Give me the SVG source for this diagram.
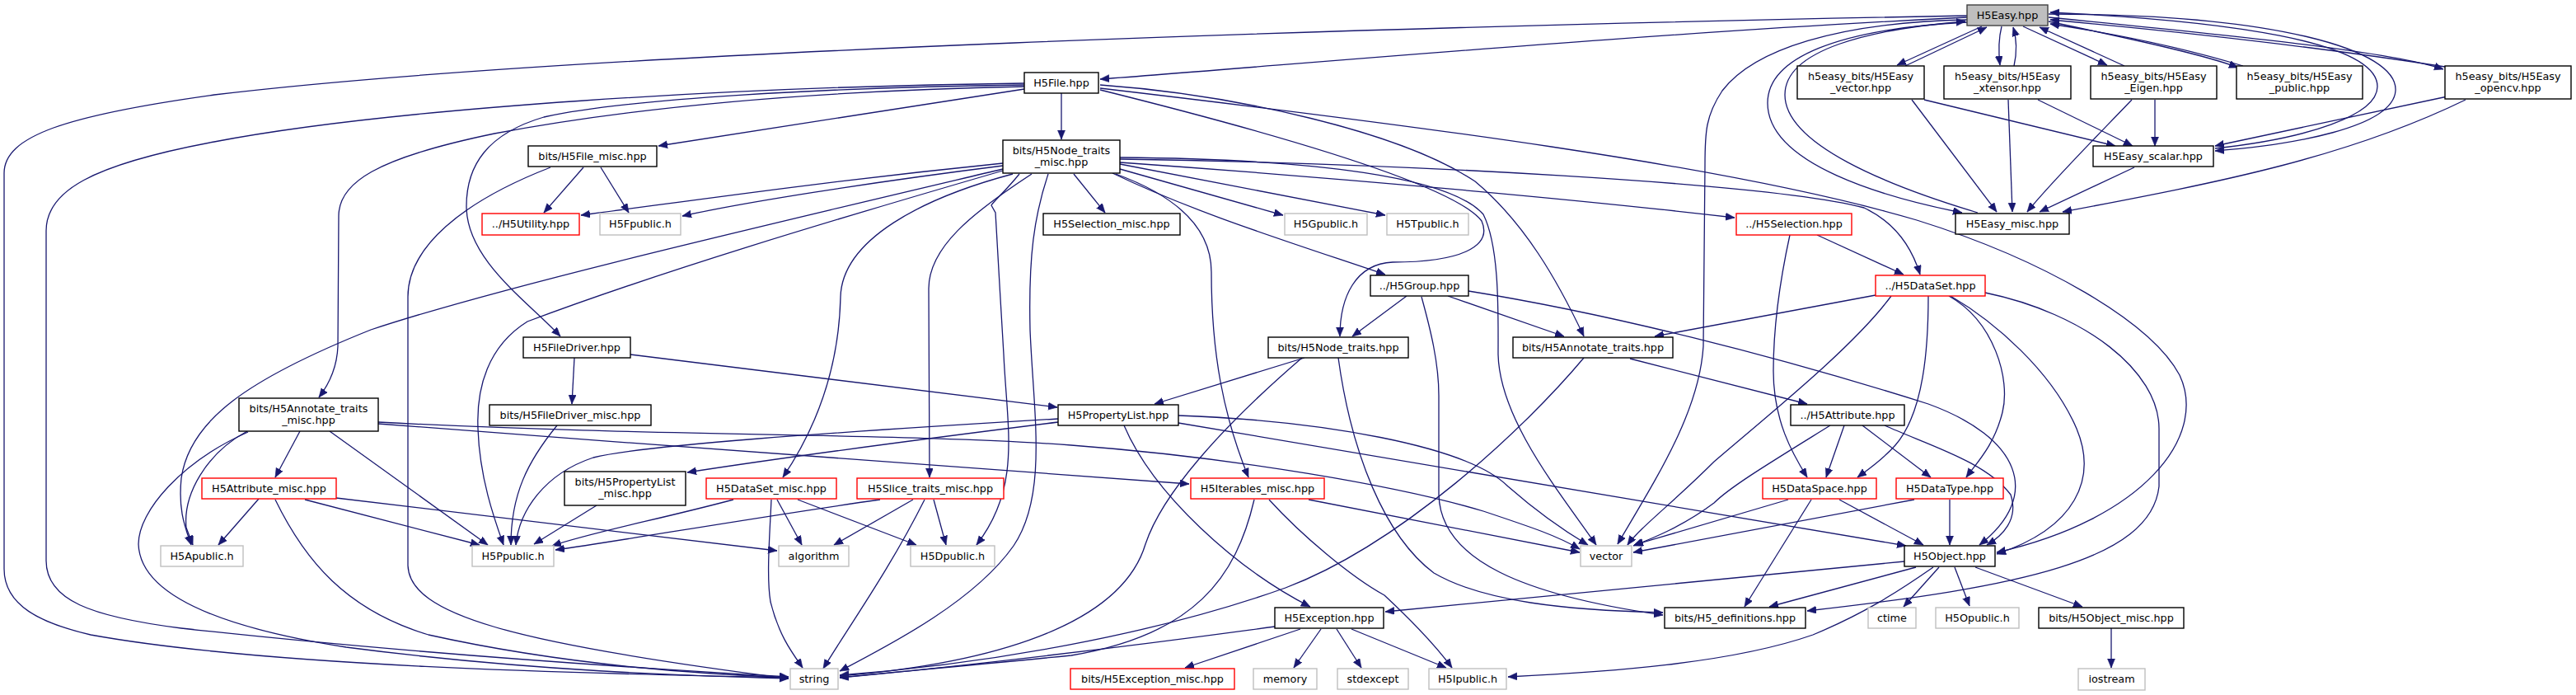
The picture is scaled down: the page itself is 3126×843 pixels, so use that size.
<svg xmlns="http://www.w3.org/2000/svg" width="3126" height="843" viewBox="0 0 3126 843">
<style>
rect{fill:#fff;stroke:#000;stroke-width:1.4}
.g rect{stroke:#bfbfbf}
.r rect{stroke:#ff0000}
.root rect{fill:#bfbfbf;stroke:#404040}
text{font-family:"DejaVu Sans","Liberation Sans",sans-serif;font-size:12.8px;text-anchor:middle;fill:#000}
#edges path{fill:none;stroke:#191970;stroke-width:1.3;marker-end:url(#ah)}
</style>
<defs>
<marker id="ah" markerUnits="userSpaceOnUse" markerWidth="13" markerHeight="11" refX="11" refY="4.5" orient="auto">
<path d="M0,0 L11,4.5 L0,9 z" fill="#191970" stroke="#191970" stroke-width="0.6"/>
</marker>
</defs>
<rect x="0" y="0" width="3126" height="843" style="fill:#fff;stroke:none"/>
<g id="edges">
<path d="M2387,21 C2000,40 1600,76 1335,96"/>
<path d="M2387,19 C1700,32 700,62 260,115 C80,140 5,165 5,210 L5,690 C5,735 50,756 110,770 C320,808 700,817 957,822"/>
<path d="M2387,24 C2230,27 2128,60 2090,110 C2070,140 2069,160 2069,200 L2067,420 C2062,500 2010,580 1963,660"/>
<path d="M2405,32 L2302,79"/>
<path d="M2429,32 C2425,48 2425,62 2427,79"/>
<path d="M2455,32 L2557,79"/>
<path d="M2486,26 C2600,50 2680,68 2716,82"/>
<path d="M2486,21 C2700,42 2900,62 2965,84"/>
<path d="M2486,17 C2760,17 2910,60 2907,110 C2904,155 2780,176 2688,183"/>
<path d="M2387,27 C2230,35 2145,70 2145,125 C2145,200 2290,240 2381,258"/>
<path d="M2400,258 C2290,225 2166,175 2166,115 C2166,60 2270,35 2385,26"/>
<path d="M2312,80 L2411,33"/>
<path d="M2444,80 C2448,62 2447,46 2443,33"/>
<path d="M2578,80 L2475,33"/>
<path d="M2722,80 C2650,58 2560,40 2488,29"/>
<path d="M2967,81 C2800,55 2620,36 2488,24"/>
<path d="M2688,180 C2800,168 2885,140 2885,105 C2885,50 2700,25 2488,15"/>
<path d="M2320,121 L2423,257"/>
<path d="M2335,121 L2567,177"/>
<path d="M2437,121 L2442,257"/>
<path d="M2473,121 L2588,177"/>
<path d="M2587,121 C2540,170 2490,220 2460,257"/>
<path d="M2615,121 L2615,177"/>
<path d="M2590,203 L2475,257"/>
<path d="M2992,121 C2850,190 2700,220 2503,257"/>
<path d="M2970,117 L2688,177"/>
<path d="M1243,108 L799,177"/>
<path d="M1288,113 L1288,169"/>
<path d="M1243,101 C900,105 480,130 260,172 C110,200 56,232 56,280 L56,680 C56,728 110,748 220,762 C500,793 800,812 957,821"/>
<path d="M1243,105 C1000,110 780,128 600,162 C455,192 411,222 411,262 L410,420 C409,445 400,465 387,482"/>
<path d="M1243,103 C1000,106 760,120 660,142 C592,162 566,200 566,250 C566,315 640,365 680,408"/>
<path d="M1335,103 C1500,115 1700,160 1790,220 C1850,270 1890,340 1922,408"/>
<path d="M1335,107 C1700,150 2100,200 2326,267 C2480,315 2610,390 2645,455 C2680,530 2600,630 2423,670"/>
<path d="M1335,109 C1560,165 1765,225 1798,268 C1812,300 1770,318 1690,318 C1645,320 1626,360 1626,408"/>
<path d="M1217,198 C1000,220 850,242 705,261"/>
<path d="M1217,201 C1050,222 900,246 828,262"/>
<path d="M1217,205 C900,280 600,350 450,400 C300,460 230,510 220,580 C216,620 225,640 232,661"/>
<path d="M1217,207 C1000,270 800,330 640,390 C592,420 578,470 580,520 C582,580 600,630 611,661"/>
<path d="M1229,211 C1120,240 1022,290 1020,360 C1018,450 990,520 950,579"/>
<path d="M1252,211 C1180,258 1127,300 1127,350 L1128,579"/>
<path d="M1272,211 C1255,262 1248,310 1250,400 C1254,500 1272,600 1230,662 C1182,730 1080,782 1019,814"/>
<path d="M1237,211 C1220,232 1206,244 1203,249 L1208,258 C1212,320 1214,370 1218,430 C1222,520 1240,590 1185,661"/>
<path d="M1354,211 C1420,235 1470,272 1470,330 C1470,430 1485,505 1515,579"/>
<path d="M1303,211 L1341,258"/>
<path d="M1359,205 L1557,261"/>
<path d="M1359,199 L1681,261"/>
<path d="M1350,210 C1450,258 1560,292 1681,333"/>
<path d="M1359,197 C1600,214 1900,240 2105,264"/>
<path d="M1359,193 C1700,198 2150,222 2262,252 C2300,270 2320,300 2330,333"/>
<path d="M1359,191 C1600,193 1760,215 1800,260 C1820,300 1818,380 1818,430 C1820,510 1895,600 1937,661"/>
<path d="M708,203 L660,258"/>
<path d="M729,203 L763,258"/>
<path d="M668,203 C560,245 495,300 495,360 L495,686 C497,745 620,780 957,823"/>
<path d="M697,434 L694,490"/>
<path d="M765,430 L1283,494"/>
<path d="M676,516 C640,560 620,600 620,661"/>
<path d="M1284,512 C1100,535 950,555 834,573"/>
<path d="M1284,508 C1000,525 780,540 720,555 C660,575 630,620 626,661"/>
<path d="M1430,504 C1600,510 1780,540 1830,590 C1870,625 1900,645 1927,661"/>
<path d="M1430,513 L2313,662"/>
<path d="M1364,516 C1400,600 1500,690 1590,736"/>
<path d="M300,523 C250,550 222,600 226,640 L234,661"/>
<path d="M364,523 L334,579"/>
<path d="M400,523 L592,661"/>
<path d="M301,524 C220,560 168,620 168,660 C170,720 260,760 420,785 C650,815 850,820 957,823"/>
<path d="M459,512 C800,530 1100,525 1300,540 C1500,555 1700,590 1800,620 C1860,640 1890,650 1917,666"/>
<path d="M459,514 C800,540 1200,570 1443,587"/>
<path d="M314,605 L265,661"/>
<path d="M370,606 L582,661"/>
<path d="M334,606 C370,680 420,740 520,770 C700,810 870,818 957,822"/>
<path d="M408,604 L943,668"/>
<path d="M724,613 L648,660"/>
<path d="M890,606 C800,630 720,645 670,662"/>
<path d="M943,606 L973,661"/>
<path d="M968,606 L1112,661"/>
<path d="M936,606 C934,650 930,700 935,730 C945,770 960,790 974,810"/>
<path d="M1068,606 C900,630 760,655 674,667"/>
<path d="M1108,606 L1012,661"/>
<path d="M1133,606 L1148,661"/>
<path d="M1122,606 C1080,690 1030,760 999,811"/>
<path d="M1522,606 C1500,700 1450,770 1300,795 C1150,810 1050,818 1019,822"/>
<path d="M1540,606 C1580,650 1640,700 1680,722 C1710,750 1740,780 1762,810"/>
<path d="M1588,606 L1917,670"/>
<path d="M1547,760 C1400,780 1200,805 1019,822"/>
<path d="M1578,763 L1438,810"/>
<path d="M1603,763 L1570,810"/>
<path d="M1622,763 L1652,810"/>
<path d="M1640,763 L1755,810"/>
<path d="M2311,681 L1681,742"/>
<path d="M2325,688 L2147,736"/>
<path d="M2353,688 L2310,736"/>
<path d="M2372,688 L2390,735"/>
<path d="M2397,688 L2527,736"/>
<path d="M2346,688 C2300,720 2260,745 2200,770 C2100,805 1950,815 1830,821"/>
<path d="M2562,762 L2562,810"/>
<path d="M1707,359 L1641,408"/>
<path d="M1757,359 L1898,408"/>
<path d="M1725,360 C1736,400 1746,440 1746,480 L1746,600 C1748,680 1850,722 2018,746"/>
<path d="M1782,353 C1950,380 2150,430 2340,490 C2450,530 2480,600 2402,661"/>
<path d="M1583,434 L1401,490"/>
<path d="M1580,434 C1480,520 1410,600 1390,660 C1360,760 1200,805 1019,820"/>
<path d="M1624,434 C1640,550 1680,650 1740,695 C1800,730 1900,740 2018,743"/>
<path d="M1978,435 L2193,490"/>
<path d="M1922,434 C1850,520 1700,660 1560,713 C1400,770 1200,805 1019,819"/>
<path d="M2172,285 C2160,340 2152,400 2152,450 C2152,510 2175,550 2193,579"/>
<path d="M2205,285 L2310,333"/>
<path d="M2276,358 L2008,408"/>
<path d="M2295,359 C2250,420 2150,500 2080,560 C2030,610 1990,640 1975,661"/>
<path d="M2340,359 C2340,420 2335,500 2300,540 C2282,560 2266,570 2254,579"/>
<path d="M2365,359 C2420,390 2440,460 2430,500 C2420,540 2400,560 2386,579"/>
<path d="M2367,359 C2420,390 2490,450 2520,520 C2545,580 2520,640 2423,672"/>
<path d="M2409,355 C2530,380 2620,450 2620,520 L2620,590 C2610,680 2450,712 2193,741"/>
<path d="M2221,516 C2150,560 2100,590 2080,610 C2040,640 2000,655 1982,662"/>
<path d="M2238,516 L2216,579"/>
<path d="M2260,516 L2343,579"/>
<path d="M2287,516 C2340,540 2410,560 2440,600 C2450,630 2430,650 2411,661"/>
<path d="M2170,606 L1983,661"/>
<path d="M2198,606 L2117,736"/>
<path d="M2232,606 L2334,661"/>
<path d="M2323,606 L1982,670"/>
<path d="M2366,606 L2366,661"/>
</g>
<g id="n_H5Easy" class="root"><rect x="2387" y="6" width="98" height="25"/><text x="2436" y="23">H5Easy.hpp</text></g>
<g id="n_H5File"><rect x="1243" y="88" width="90" height="25"/><text x="1288" y="105">H5File.hpp</text></g>
<g id="n_EasyVector"><rect x="2181" y="80" width="154" height="40"/><text x="2258" y="97">h5easy_bits/H5Easy</text><text x="2258" y="111">_vector.hpp</text></g>
<g id="n_EasyXtensor"><rect x="2359" y="80" width="154" height="40"/><text x="2436" y="97">h5easy_bits/H5Easy</text><text x="2436" y="111">_xtensor.hpp</text></g>
<g id="n_EasyEigen"><rect x="2537" y="80" width="153" height="40"/><text x="2613.5" y="97">h5easy_bits/H5Easy</text><text x="2613.5" y="111">_Eigen.hpp</text></g>
<g id="n_EasyPublic"><rect x="2714" y="80" width="153" height="40"/><text x="2790.5" y="97">h5easy_bits/H5Easy</text><text x="2790.5" y="111">_public.hpp</text></g>
<g id="n_EasyOpencv"><rect x="2967" y="80" width="153" height="40"/><text x="3043.5" y="97">h5easy_bits/H5Easy</text><text x="3043.5" y="111">_opencv.hpp</text></g>
<g id="n_FileMisc"><rect x="641" y="177" width="156" height="25"/><text x="719" y="194">bits/H5File_misc.hpp</text></g>
<g id="n_NodeTraitsMisc"><rect x="1217" y="170" width="142" height="40"/><text x="1288" y="187">bits/H5Node_traits</text><text x="1288" y="201">_misc.hpp</text></g>
<g id="n_EasyScalar"><rect x="2540" y="177" width="146" height="25"/><text x="2613" y="194">H5Easy_scalar.hpp</text></g>
<g id="n_Utility" class="r"><rect x="585" y="259" width="118" height="26"/><text x="644" y="276">../H5Utility.hpp</text></g>
<g id="n_Fpublic" class="g"><rect x="728" y="259" width="98" height="26"/><text x="777" y="276">H5Fpublic.h</text></g>
<g id="n_SelectionMisc"><rect x="1266" y="259" width="166" height="26"/><text x="1349" y="276">H5Selection_misc.hpp</text></g>
<g id="n_Gpublic" class="g"><rect x="1559" y="259" width="100" height="26"/><text x="1609" y="276">H5Gpublic.h</text></g>
<g id="n_Tpublic" class="g"><rect x="1683" y="259" width="99" height="26"/><text x="1732.5" y="276">H5Tpublic.h</text></g>
<g id="n_Selection" class="r"><rect x="2107" y="259" width="140" height="26"/><text x="2177" y="276">../H5Selection.hpp</text></g>
<g id="n_EasyMisc"><rect x="2373" y="259" width="138" height="25"/><text x="2442" y="276">H5Easy_misc.hpp</text></g>
<g id="n_Group"><rect x="1663" y="334" width="119" height="25"/><text x="1722.5" y="351">../H5Group.hpp</text></g>
<g id="n_DataSet" class="r"><rect x="2276" y="334" width="133" height="25"/><text x="2342.5" y="351">../H5DataSet.hpp</text></g>
<g id="n_FileDriver"><rect x="635" y="409" width="130" height="25"/><text x="700" y="426">H5FileDriver.hpp</text></g>
<g id="n_NodeTraits"><rect x="1539" y="409" width="170" height="25"/><text x="1624" y="426">bits/H5Node_traits.hpp</text></g>
<g id="n_AnnotTraits"><rect x="1836" y="409" width="194" height="25"/><text x="1933" y="426">bits/H5Annotate_traits.hpp</text></g>
<g id="n_AnnotTraitsMisc"><rect x="290" y="483" width="169" height="40"/><text x="374.5" y="500">bits/H5Annotate_traits</text><text x="374.5" y="514">_misc.hpp</text></g>
<g id="n_FileDriverMisc"><rect x="594" y="491" width="196" height="25"/><text x="692" y="508">bits/H5FileDriver_misc.hpp</text></g>
<g id="n_PropertyList"><rect x="1284" y="491" width="146" height="25"/><text x="1357" y="508">H5PropertyList.hpp</text></g>
<g id="n_Attribute"><rect x="2173" y="491" width="138" height="25"/><text x="2242" y="508">../H5Attribute.hpp</text></g>
<g id="n_PropertyListMisc"><rect x="685" y="572" width="147" height="41"/><text x="758.5" y="589">bits/H5PropertyList</text><text x="758.5" y="603">_misc.hpp</text></g>
<g id="n_AttributeMisc" class="r"><rect x="245" y="580" width="163" height="25"/><text x="326.5" y="597">H5Attribute_misc.hpp</text></g>
<g id="n_DataSetMisc" class="r"><rect x="857" y="580" width="158" height="25"/><text x="936" y="597">H5DataSet_misc.hpp</text></g>
<g id="n_SliceTraitsMisc" class="r"><rect x="1040" y="580" width="178" height="25"/><text x="1129" y="597">H5Slice_traits_misc.hpp</text></g>
<g id="n_IterablesMisc" class="r"><rect x="1445" y="580" width="162" height="25"/><text x="1526" y="597">H5Iterables_misc.hpp</text></g>
<g id="n_DataSpace" class="r"><rect x="2139" y="580" width="138" height="25"/><text x="2208" y="597">H5DataSpace.hpp</text></g>
<g id="n_DataType" class="r"><rect x="2301" y="580" width="130" height="25"/><text x="2366" y="597">H5DataType.hpp</text></g>
<g id="n_Apublic" class="g"><rect x="195" y="662" width="100" height="25"/><text x="245" y="679">H5Apublic.h</text></g>
<g id="n_Ppublic" class="g"><rect x="573" y="662" width="99" height="25"/><text x="622.5" y="679">H5Ppublic.h</text></g>
<g id="n_algorithm" class="g"><rect x="945" y="662" width="85" height="25"/><text x="987.5" y="679">algorithm</text></g>
<g id="n_Dpublic" class="g"><rect x="1105" y="662" width="102" height="25"/><text x="1156" y="679">H5Dpublic.h</text></g>
<g id="n_vector" class="g"><rect x="1918" y="662" width="62" height="25"/><text x="1949" y="679">vector</text></g>
<g id="n_Object"><rect x="2311" y="662" width="110" height="25"/><text x="2366" y="679">H5Object.hpp</text></g>
<g id="n_Exception"><rect x="1547" y="737" width="132" height="25"/><text x="1613" y="754">H5Exception.hpp</text></g>
<g id="n_Definitions"><rect x="2020" y="737" width="171" height="25"/><text x="2105.5" y="754">bits/H5_definitions.hpp</text></g>
<g id="n_ctime" class="g"><rect x="2267" y="737" width="58" height="25"/><text x="2296" y="754">ctime</text></g>
<g id="n_Opublic" class="g"><rect x="2349" y="737" width="101" height="25"/><text x="2399.5" y="754">H5Opublic.h</text></g>
<g id="n_ObjectMisc"><rect x="2474" y="737" width="176" height="25"/><text x="2562" y="754">bits/H5Object_misc.hpp</text></g>
<g id="n_string" class="g"><rect x="959" y="811" width="58" height="25"/><text x="988" y="828">string</text></g>
<g id="n_ExceptionMisc" class="r"><rect x="1299" y="811" width="199" height="25"/><text x="1398.5" y="828">bits/H5Exception_misc.hpp</text></g>
<g id="n_memory" class="g"><rect x="1521" y="811" width="77" height="25"/><text x="1559.5" y="828">memory</text></g>
<g id="n_stdexcept" class="g"><rect x="1623" y="811" width="86" height="25"/><text x="1666" y="828">stdexcept</text></g>
<g id="n_Ipublic" class="g"><rect x="1734" y="811" width="94" height="25"/><text x="1781" y="828">H5Ipublic.h</text></g>
<g id="n_iostream" class="g"><rect x="2522" y="811" width="81" height="26"/><text x="2562.5" y="828">iostream</text></g>
</svg>
